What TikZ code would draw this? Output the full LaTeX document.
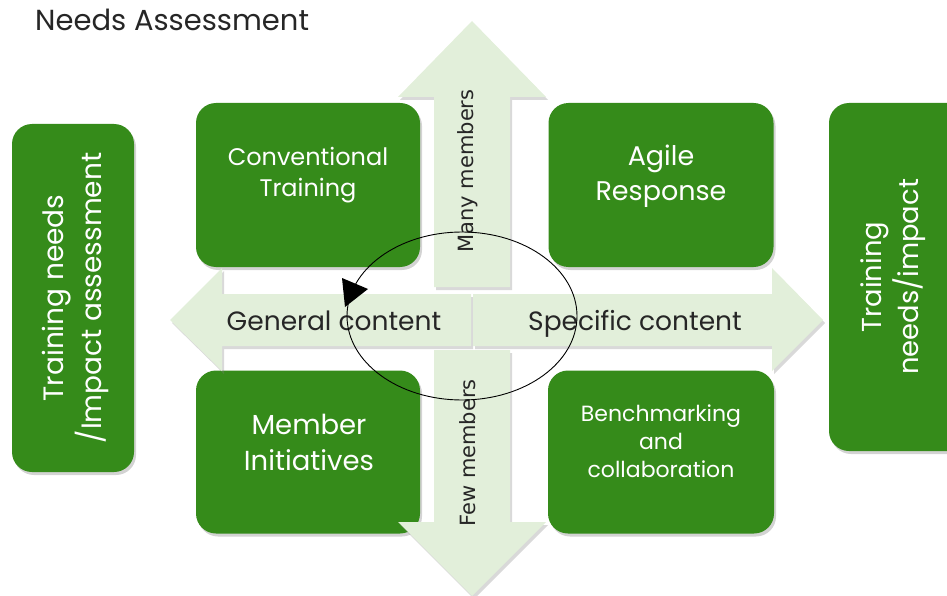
\documentclass[tikz,border=0pt]{standalone}
\usepackage{fontspec}
\setmainfont{Poppins}
\newfontfamily\dejaf{DejaVu Sans}
\usetikzlibrary{shadows}
\definecolor{boxgreen}{RGB}{53,139,26}
\definecolor{lightgreen}{RGB}{226,239,218}
\tikzset{
  x=1pt, y=-1pt,
  gbox/.style={fill=boxgreen, rounded corners=20pt, text=white, align=center,
    inner sep=0pt,
    drop shadow={opacity=0.35, shadow xshift=2pt, shadow yshift=-3pt}},
  larrow/.style={fill=lightgreen,
    drop shadow={opacity=0.3, shadow xshift=2pt, shadow yshift=-3pt}},
  lbl/.style={text=black!85, inner sep=0pt},
  wlbl/.style={text=white, inner sep=0pt, align=center}
}
\begin{document}
\begin{tikzpicture}
\useasboundingbox (0,0) rectangle (947,596);
% title
\node[lbl, anchor=west, font=\fontsize{29}{33}\selectfont] (title) at (35,20) {Needs Assessment};
% side boxes
\node[gbox, minimum width=122pt, minimum height=348pt] (leftbox) at (73,298) {};
\node[wlbl, rotate=90, font=\fontsize{28}{38}\selectfont] (lefttext) at (75,298) {Training needs\\/Impact assessment};
\node[gbox, minimum width=140pt, minimum height=348pt] (rightbox) at (899,277) {};
\node[wlbl, rotate=90, font=\fontsize{27.4}{37}\selectfont] (righttext) at (893,277) {Training\\needs/impact};
% quadrant boxes
\node[gbox, minimum width=224pt, minimum height=164pt] (conv) at (308,185) {};
\node[wlbl, font=\fontsize{24}{31}\selectfont] (convt) at (308,175) {Conventional\\Training};
\node[gbox, minimum width=225pt, minimum height=164pt] (agile) at (661,185) {};
\node[wlbl, font=\fontsize{27}{35}\selectfont] (agilet) at (661,176) {Agile\\Response};
\node[gbox, minimum width=224pt, minimum height=163pt] (member) at (308,452) {};
\node[wlbl, font=\fontsize{27.5}{36}\selectfont] (membert) at (309,442) {Member\\Initiatives};
\node[gbox, minimum width=226pt, minimum height=163pt] (bench) at (661,452) {};
\node[wlbl, font=\fontsize{22}{28}\selectfont] (bencht) at (661,441) {Benchmarking\\and\\collaboration};
% arrows
\fill[larrow] (434,287) -- (434,97) -- (398,97) -- (472,21) -- (546,97) -- (510,97) -- (510,287) -- cycle;
\fill[larrow] (434,350) -- (434,522) -- (398,522) -- (472,596) -- (546,522) -- (510,522) -- (510,350) -- cycle;
\fill[larrow] (471,294) -- (222,294) -- (222,268) -- (170,320) -- (222,371) -- (222,346) -- (471,346) -- cycle;
\fill[larrow] (473,294) -- (772,294) -- (772,268) -- (823,320) -- (772,371) -- (772,346) -- (473,346) -- cycle;
% arrow labels
\node[lbl, rotate=90, font=\dejaf\fontsize{21}{24}\selectfont] (many) at (468,171) {Many members};
\node[lbl, rotate=90, font=\dejaf\fontsize{21}{24}\selectfont] (few) at (468,453) {Few members};
\node[lbl, anchor=base, font=\fontsize{26.5}{30}\selectfont] (gen) at (334,330) {General content};
\node[lbl, anchor=base, font=\fontsize{26.5}{30}\selectfont] (spec) at (635,330) {Specific content};
% cycle ellipse
\draw[black, line width=0.9pt] (462,316) ellipse [x radius=115pt, y radius=84pt];
\fill[black] (342,278) -- (368,289) -- (345,307) -- cycle;
\end{tikzpicture}
\end{document}
